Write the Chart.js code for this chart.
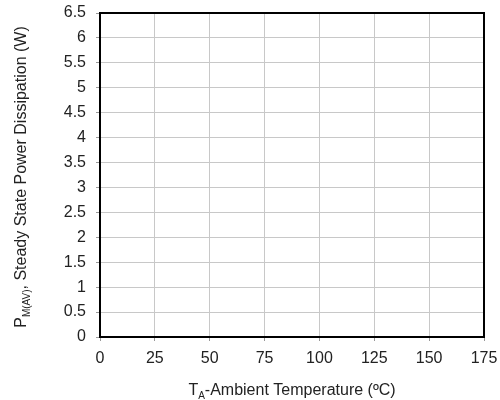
<!DOCTYPE html>
<html>
<head>
<meta charset="utf-8">
<script src="https://cdn.jsdelivr.net/npm/chart.js@4/dist/chart.umd.min.js"></script>
<style>
  html, body { margin: 0; padding: 0; background: #fff; }
  #wrap { width: 500px; height: 400px; }
</style>
</head>
<body>
<div id="wrap"><canvas id="chart"></canvas></div>
<script>
// axis ticks
const tempTicks = [0, 25, 50, 75, 100, 125, 150, 175];
const powerTicks = [0, 0.5, 1, 1.5, 2, 2.5, 3, 3.5, 4, 4.5, 5, 5.5, 6, 6.5];
// the reference shows no curve, only the empty grid
const powerSeries = [];

const FONT = '"Liberation Sans", Arial, sans-serif';

// frame + titles with subscripts
const framePlugin = {
  id: 'frame',
  afterDraw(chart) {
    const ctx = chart.ctx;
    const a = chart.chartArea;
    ctx.save();
    ctx.strokeStyle = '#000';
    ctx.lineWidth = 2;
    ctx.strokeRect(a.left, a.top, a.right - a.left, a.bottom - a.top);

    ctx.fillStyle = '#222';
    ctx.textBaseline = 'alphabetic';
    ctx.textAlign = 'left';
    const big = '16px ' + FONT;
    const small = '10px ' + FONT;

    // x title
    let parts = [['T', big, 0], ['A', small, 4], ['-Ambient Temperature (ºC)', big, 0]];
    drawParts(ctx, parts, (a.left + a.right) / 2, 395);

    // y title, rotated
    ctx.translate(26, (a.top + a.bottom) / 2 + 2);
    ctx.rotate(-Math.PI / 2);
    parts = [['P', big, 0], ['M(AV)', small, 4], [', Steady State Power Dissipation (W)', big, 0]];
    drawParts(ctx, parts, 0, 0);
    ctx.restore();
  }
};

function drawParts(ctx, parts, cx, y) {
  let total = 0;
  parts.forEach(p => { ctx.font = p[1]; total += ctx.measureText(p[0]).width; });
  let x = cx - total / 2;
  parts.forEach(p => {
    ctx.font = p[1];
    ctx.fillText(p[0], x, y + p[2]);
    x += ctx.measureText(p[0]).width;
  });
}

const ctx = document.getElementById('chart');
new Chart(ctx, {
  type: 'line',
  data: {
    datasets: [{
      label: 'P M(AV)',
      data: powerSeries,
      borderColor: '#000',
      pointRadius: 0
    }]
  },
  options: {
    responsive: true,
    maintainAspectRatio: false,
    animation: false,
    layout: { padding: { top: 13, right: 16, left: 0, bottom: 0 } },
    plugins: { legend: { display: false }, tooltip: { enabled: false } },
    scales: {
      x: {
        type: 'linear',
        min: 0,
        max: 175,
        afterBuildTicks: s => { s.ticks = tempTicks.map(v => ({ value: v })); },
        afterFit: s => { s.height = 63; s.paddingLeft = 0; s.paddingRight = 0; },
        grid: { color: '#c8c8c8', lineWidth: 1, tickLength: 4, tickColor: '#999' },
        border: { display: false },
        ticks: { color: '#222', font: { family: FONT, size: 16 }, padding: 8, maxRotation: 0,
                 callback: v => String(v) }
      },
      y: {
        type: 'linear',
        min: 0,
        max: 6.5,
        afterBuildTicks: s => { s.ticks = powerTicks.map(v => ({ value: v })); },
        afterFit: s => { s.width = 100; s.paddingTop = 0; s.paddingBottom = 0; },
        grid: { color: '#c8c8c8', lineWidth: 1, tickLength: 4, tickColor: '#999' },
        border: { display: false },
        ticks: { color: '#222', font: { family: FONT, size: 16 }, padding: 10,
                 callback: v => String(v) }
      }
    }
  },
  plugins: [framePlugin]
});
</script>
</body>
</html>
